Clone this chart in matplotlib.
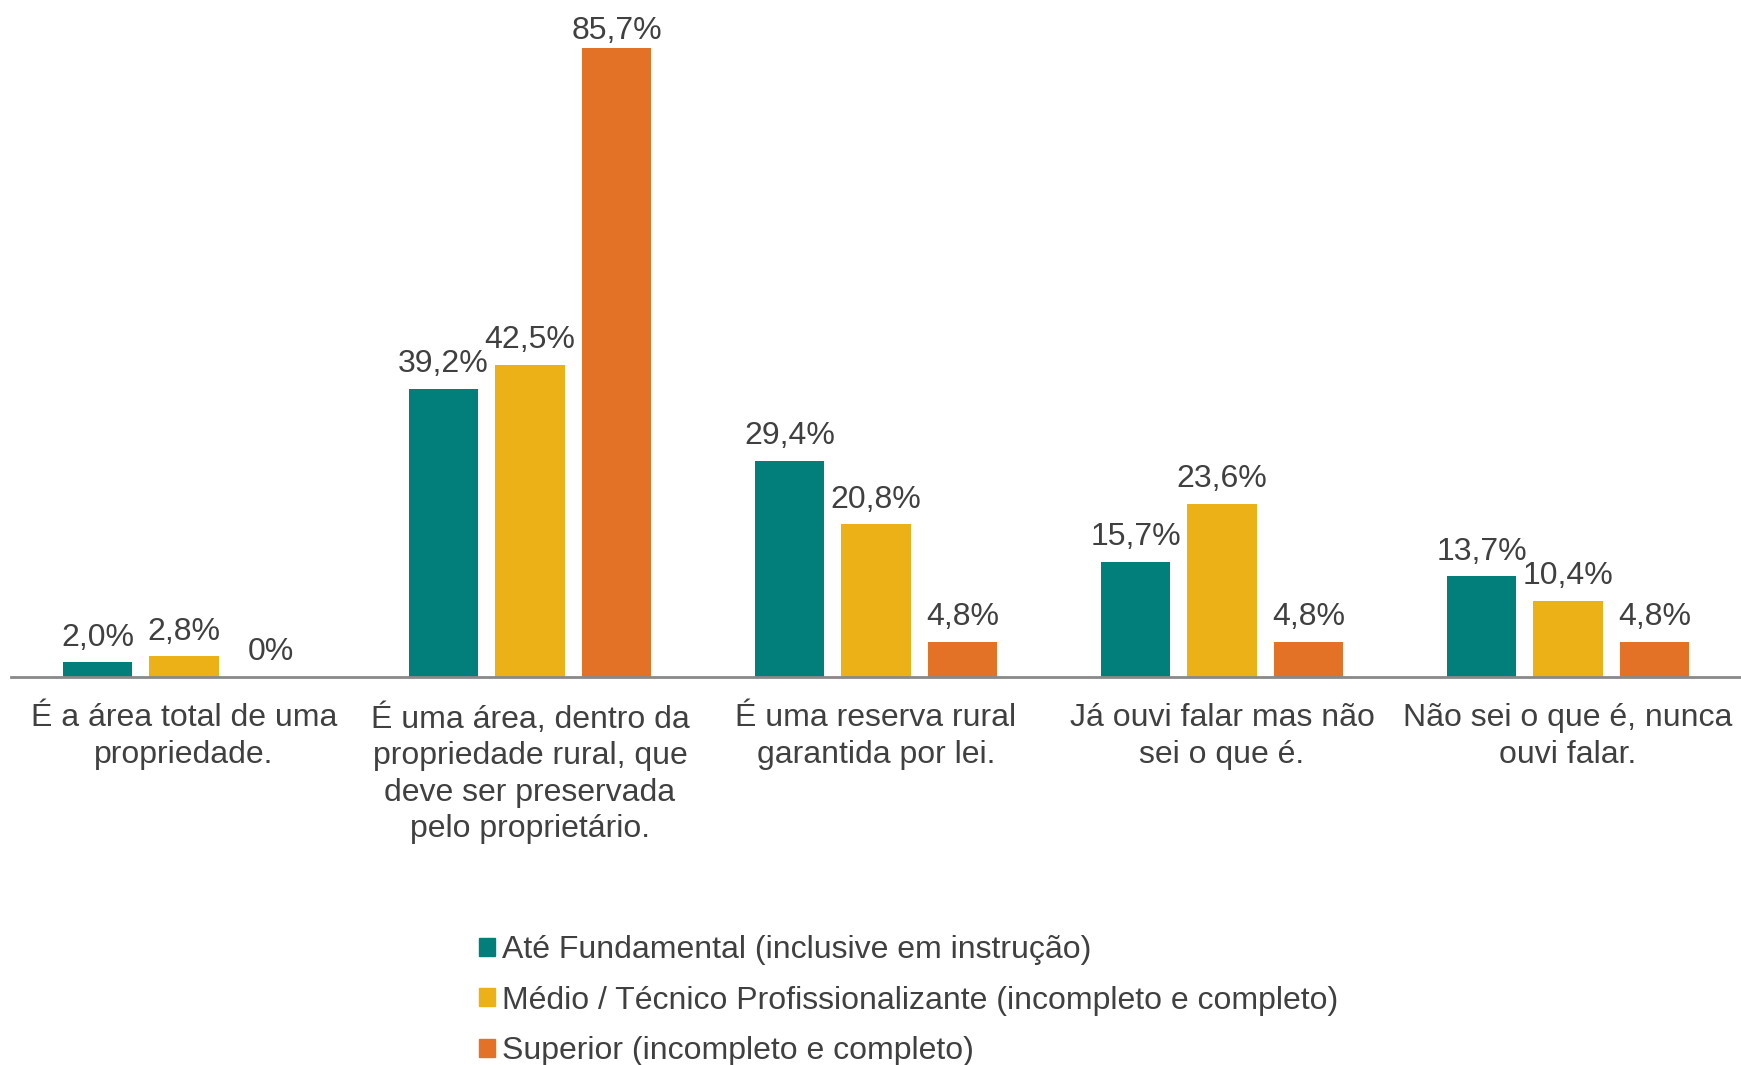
import matplotlib.pyplot as plt
import numpy as np
from matplotlib.patches import Patch

plt.rcParams['font.family'] = ['Liberation Sans', 'DejaVu Sans']

# dados
categorias = ["É a área total de uma\npropriedade.",
              "É uma área, dentro da\npropriedade rural, que\ndeve ser preservada\npelo proprietário.",
              "É uma reserva rural\ngarantida por lei.",
              "Já ouvi falar mas não\nsei o que é.",
              "Não sei o que é, nunca\nouvi falar."]
series = ["Até Fundamental (inclusive em instrução)",
          "Médio / Técnico Profissionalizante (incompleto e completo)",
          "Superior (incompleto e completo)"]
fundamental = [2.0, 39.2, 29.4, 15.7, 13.7]
medio = [2.8, 42.5, 20.8, 23.6, 10.4]
superior = [0, 85.7, 4.8, 4.8, 4.8]
rotulos_fund = ["2,0%", "39,2%", "29,4%", "15,7%", "13,7%"]
rotulos_medio = ["2,8%", "42,5%", "20,8%", "23,6%", "10,4%"]
rotulos_sup = ["0%", "85,7%", "4,8%", "4,8%", "4,8%"]

cores = ["#027F7A", "#EDB118", "#E37226"]
texto = "#404040"
fs = 23

fig = plt.figure(figsize=(17.41, 10.65), dpi=100)
ax = fig.add_axes([0.0063, 0.3643, 0.9937, 0.6207])

x = np.arange(len(categorias))
w = 0.2
dados = [fundamental, medio, superior]
rotulos = [rotulos_fund, rotulos_medio, rotulos_sup]
for i in range(3):
    pos = x + (i - 1) * 0.25
    ax.bar(pos, dados[i], w, color=cores[i], zorder=2)
    for p, v, r in zip(pos, dados[i], rotulos[i]):
        # rótulo do maior valor fica mais perto da barra (topo do gráfico)
        off = 7 if v < 80 else 1
        ax.annotate(r, (p, v), xytext=(0, off), textcoords="offset points",
                    ha="center", va="bottom", fontsize=fs, color=texto)

ax.set_xlim(-0.5, 4.5)
ax.set_ylim(0, 90)
ax.set_yticks([])
ax.set_xticks(x)
ax.set_xticklabels(categorias, fontsize=fs, color=texto, linespacing=1.28)
ax.tick_params(axis="x", length=0, pad=19)
for s in ["top", "right", "left"]:
    ax.spines[s].set_visible(False)
ax.spines["bottom"].set_color("#898989")
ax.spines["bottom"].set_linewidth(2)

handles = [Patch(color=c) for c in cores]
leg = fig.legend(handles, series, loc="upper left", bbox_to_anchor=(0.268, 0.134),
                 frameon=False, fontsize=fs, handlelength=0.5, handleheight=0.5,
                 handletextpad=0.2, labelspacing=0.64, borderaxespad=0)
for t in leg.get_texts():
    t.set_color(texto)

fig.savefig("out.png", dpi=100)
